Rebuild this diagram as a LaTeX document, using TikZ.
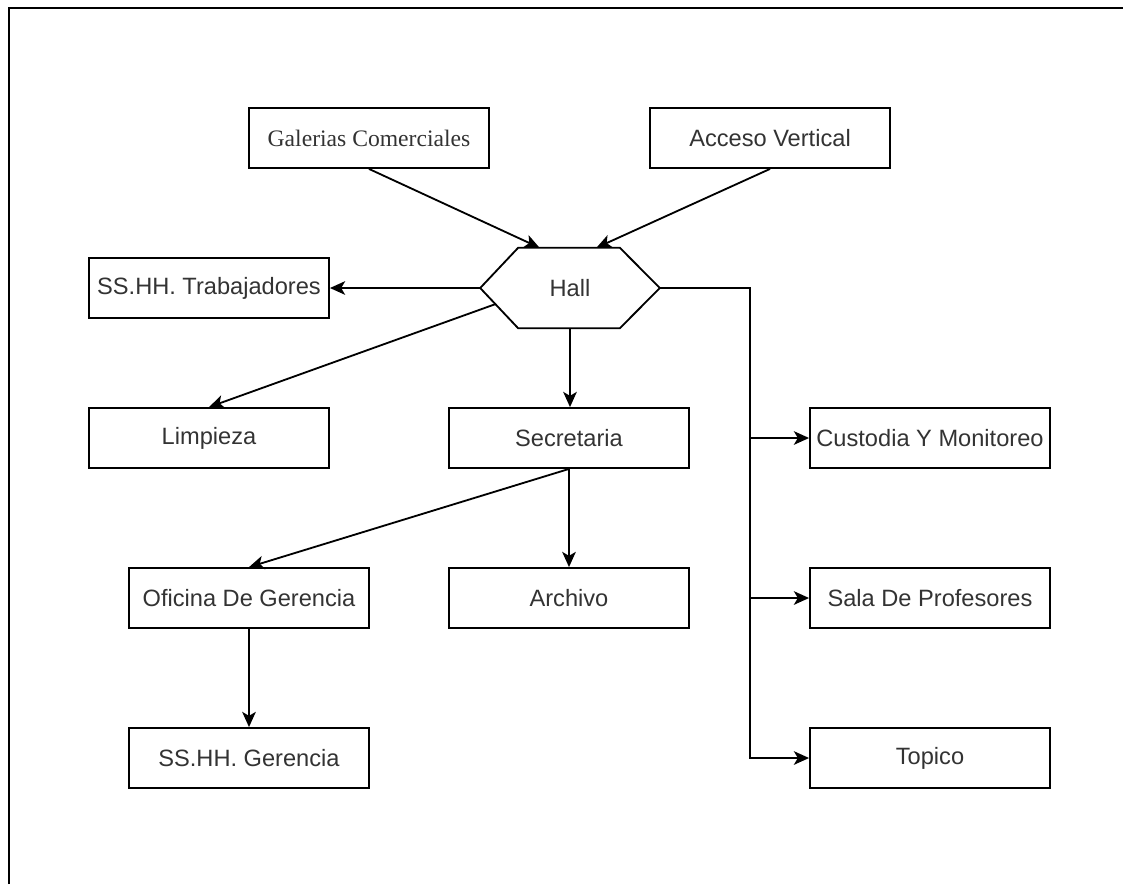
\documentclass[tikz,border=0pt]{standalone}
\usepackage{fontspec}
\setmainfont{Liberation Sans}
\newfontfamily\serifname{Liberation Serif}
\usetikzlibrary{arrows.meta,calc}

\begin{document}
\begin{tikzpicture}[
    x=0.025cm, y=-0.025cm,
    room/.style={
        draw=black,
        fill=white,
        line width=1.3pt,
        minimum width=6cm,
        minimum height=1.5cm,
        inner sep=0pt,
        align=center,
        text=black!80,
        font=\fontsize{16.8}{20}\selectfont,
    },
    hallnode/.style={
        minimum width=4.475cm,
        minimum height=2cm,
        inner sep=0pt,
        text=black!80,
        font=\fontsize{16.8}{20}\selectfont,
    },
    link/.style={
        ->,
        >={Stealth[length=0.38cm,width=0.34cm,inset=0.1cm]},
        line width=1.3pt,
        color=black,
    },
]
\useasboundingbox (0,0) rectangle (1123,884);
\draw[line width=1.4pt] (9,884) |- (1123,8);

\node[room] (gal) at (369,138) {\serifname Galerias Comerciales};
\node[room] (acc) at (770,138) {Acceso Vertical};

\node[hallnode] (hall) at (570,288) {Hall};
\draw[line width=1.3pt] (hall.west)
    -- ($(hall.north west)+(38,0)$) coordinate (hnw)
    -- ($(hall.north east)+(-40,0)$) coordinate (hne)
    -- (hall.east)
    -- ($(hall.south east)+(-40,0)$)
    -- ($(hall.south west)+(38,0)$) coordinate (hsw)
    -- cycle;

\node[room] (trab) at (209,288) {SS.HH. Trabajadores};
\node[room] (limp) at (209,438) {Limpieza};
\node[room] (secr) at (569,438) {Secretaria};
\node[room] (ofic) at (249,598) {Oficina De Gerencia};
\node[room] (arch) at (569,598) {Archivo};
\node[room] (ger) at (249,758) {SS.HH. Gerencia};

\node[room] (cust) at (930,438) {Custodia Y Monitoreo};
\node[room] (sala) at (930,598) {Sala De Profesores};
\node[room] (topi) at (930,758) {Topico};

\draw[link] (gal.south) -- ($(hnw)!0.21!(hne)$);
\draw[link] (acc.south) -- ($(hnw)!0.77!(hne)$);
\draw[link] (hall.west) -- (trab.east);
\draw[link] ($(hall.west)!0.4!(hsw)$) -- (limp.north);
\draw[link] (hall.south) -- (hall.south |- secr.north);

% reparto hacia la derecha
\coordinate (bus) at (750,288);
\draw[link] (hall.east) -- (bus) |- (topi.west);
\draw[link] (bus |- cust.west) -- (cust.west);
\draw[link] (bus |- sala.west) -- (sala.west);

\draw[link] (secr.south) -- (ofic.north);
\draw[link] (secr.south) -- (arch.north);
\draw[link] (ofic.south) -- (ger.north);
\end{tikzpicture}
\end{document}
